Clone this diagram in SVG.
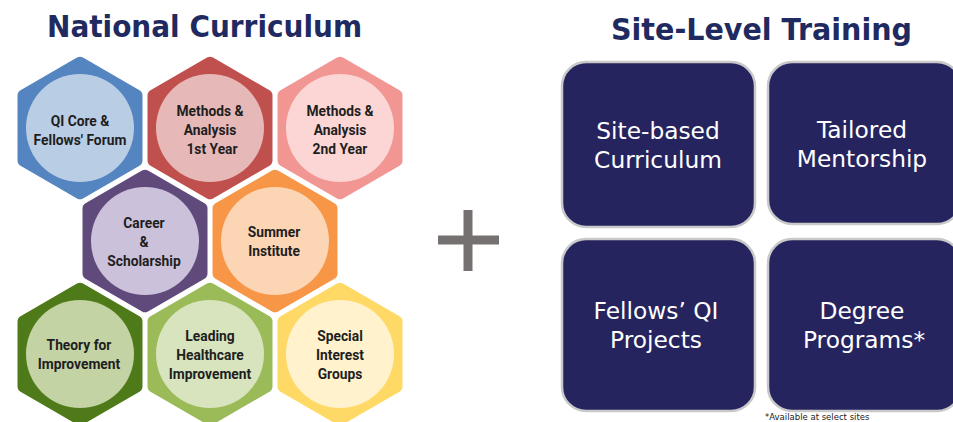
<svg xmlns="http://www.w3.org/2000/svg" width="953" height="422" viewBox="0 0 953 422">
<defs>
<style>
.title{font-family:"DejaVu Sans",Verdana,sans-serif;font-weight:bold;font-size:30px;fill:#1F2A60}
.hex{stroke-width:12;stroke-linejoin:round}
.ht{font-family:Roboto,"Liberation Sans",Arial,sans-serif;font-weight:bold;font-size:13.8px;fill:#1E1E1E;text-anchor:middle}
.box{fill:#26245E;stroke:#C9C9C9;stroke-width:2.5}
.bt{font-family:"DejaVu Sans",Verdana,sans-serif;font-size:23.3px;fill:#FFFFFF;text-anchor:middle}
.note{font-family:"DejaVu Sans",Verdana,sans-serif;font-size:8.5px;fill:#222}
</style>
<polygon id="hx" points="0,-65.24 56.5,-32.62 56.5,32.62 0,65.24 -56.5,32.62 -56.5,-32.62"/>
</defs>
<rect width="953" height="422" fill="#FFFFFF"/>
<text class="title" x="47" y="37" textLength="315" lengthAdjust="spacingAndGlyphs">National Curriculum</text>
<text class="title" x="611" y="40" textLength="301" lengthAdjust="spacingAndGlyphs">Site-Level Training</text>

<g id="qi-core">
<use href="#hx" x="80" y="128" class="hex" fill="#5585C0" stroke="#5585C0"/>
<circle cx="80" cy="128" r="54" fill="#B9CDE5"/>
<text class="ht" x="80" y="126">QI Core &amp;</text>
<text class="ht" x="80" y="145">Fellows' Forum</text>
</g>
<g id="methods-1">
<use href="#hx" x="210" y="128" class="hex" fill="#C0504D" stroke="#C0504D"/>
<circle cx="210" cy="128" r="54" fill="#E6B9B8"/>
<text class="ht" x="210" y="116">Methods &amp;</text>
<text class="ht" x="210" y="135">Analysis</text>
<text class="ht" x="212" y="154">1st Year</text>
</g>
<g id="methods-2">
<use href="#hx" x="340" y="128" class="hex" fill="#F29694" stroke="#F29694"/>
<circle cx="340" cy="128" r="54" fill="#FBD6D5"/>
<text class="ht" x="340" y="116">Methods &amp;</text>
<text class="ht" x="340" y="135">Analysis</text>
<text class="ht" x="340" y="154">2nd Year</text>
</g>
<g id="career">
<use href="#hx" x="145" y="241" class="hex" fill="#604A7B" stroke="#604A7B"/>
<circle cx="145" cy="241" r="54" fill="#CCC1DA"/>
<text class="ht" x="144" y="228">Career</text>
<text class="ht" x="144" y="247">&amp;</text>
<text class="ht" x="144" y="266">Scholarship</text>
</g>
<g id="summer">
<use href="#hx" x="275" y="241" class="hex" fill="#F79646" stroke="#F79646"/>
<circle cx="275" cy="241" r="54" fill="#FCD5B5"/>
<text class="ht" x="274" y="237">Summer</text>
<text class="ht" x="274" y="256">Institute</text>
</g>
<g id="theory">
<use href="#hx" x="80" y="354" class="hex" fill="#4F7A1A" stroke="#4F7A1A"/>
<circle cx="80" cy="354" r="54" fill="#C3D3A4"/>
<text class="ht" x="79" y="350">Theory for</text>
<text class="ht" x="79" y="369">Improvement</text>
</g>
<g id="leading">
<use href="#hx" x="210" y="354" class="hex" fill="#9BBB59" stroke="#9BBB59"/>
<circle cx="210" cy="354" r="54" fill="#D7E4BD"/>
<text class="ht" x="210" y="341">Leading</text>
<text class="ht" x="210" y="360">Healthcare</text>
<text class="ht" x="210" y="379">Improvement</text>
</g>
<g id="special">
<use href="#hx" x="340" y="354" class="hex" fill="#FFD966" stroke="#FFD966"/>
<circle cx="340" cy="354" r="54" fill="#FFF2CC"/>
<text class="ht" x="340" y="341">Special</text>
<text class="ht" x="340" y="360">Interest</text>
<text class="ht" x="340" y="379">Groups</text>
</g>

<g id="plus" fill="#767171">
<rect x="463.5" y="210" width="9" height="61"/>
<rect x="438" y="235.5" width="61" height="9"/>
</g>

<g id="site-based">
<rect class="box" x="562" y="62" width="193" height="165" rx="24"/>
<text class="bt" x="658" y="139">Site-based</text>
<text class="bt" x="658" y="168">Curriculum</text>
</g>
<g id="mentorship">
<rect class="box" x="768" y="62" width="193" height="162" rx="24"/>
<text class="bt" x="862" y="138">Tailored</text>
<text class="bt" x="862" y="167">Mentorship</text>
</g>
<g id="qi-projects">
<rect class="box" x="562" y="239" width="193" height="172" rx="24"/>
<text class="bt" x="656" y="319">Fellows’ QI</text>
<text class="bt" x="656" y="348">Projects</text>
</g>
<g id="degree">
<rect class="box" x="768" y="239" width="193" height="172" rx="24"/>
<text class="bt" x="862" y="319">Degree</text>
<text class="bt" x="864" y="348">Programs*</text>
</g>
<g id="connectors"/>
<text class="note" x="765" y="420">*Available at select sites</text>
</svg>
